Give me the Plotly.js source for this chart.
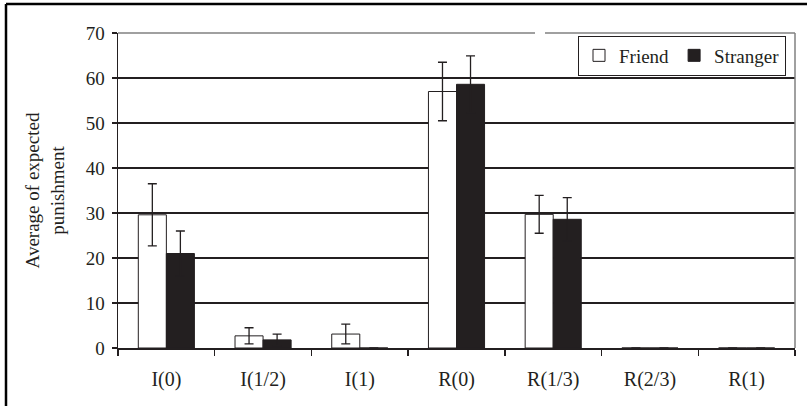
<!DOCTYPE html>
<html>
<head>
<meta charset="utf-8">
<script src="https://cdn.plot.ly/plotly-3.0.1.min.js"></script>
<style>
  html, body { margin: 0; padding: 0; background: #ffffff; }
  #chart { width: 807px; height: 406px; }
</style>
</head>
<body>
<div id="chart"></div>
<script>
// Scenario labels on the x axis
const categories = ["I(0)", "I(1/2)", "I(1)", "R(0)", "R(1/3)", "R(2/3)", "R(1)"];

// Mean expected punishment per scenario
const friendValues   = [29.6, 2.7, 3.1, 57.0, 29.7, 0, 0];
const strangerValues = [21.0, 1.8, 0, 58.6, 28.6, 0, 0];

// Error bar half-lengths
const friendErrors   = [6.9, 1.8, 2.2, 6.5, 4.2, 0, 0];
const strangerErrors = [5.0, 1.3, 0, 6.3, 4.8, 0, 0];

const yTicks = [0, 10, 20, 30, 40, 50, 60, 70];

const ink = "#231f20";
const serif = "Liberation Serif, Times New Roman, serif";

const errStyle = { type: "data", visible: true, color: ink, thickness: 1.3, width: 4.5 };

const traces = [
  {
    type: "bar", name: "Friend", x: categories, y: friendValues,
    marker: { color: "#ffffff", line: { color: ink, width: 1 } },
    error_y: Object.assign({ array: friendErrors }, errStyle)
  },
  {
    type: "bar", name: "Stranger", x: categories, y: strangerValues,
    marker: { color: ink, line: { color: ink, width: 1 } },
    error_y: Object.assign({ array: strangerErrors }, errStyle)
  }
];

// Plot area edges in pixels, used to place the frame and legend in paper units
const L = 118, R = 12, T = 33, B = 58, W = 807, H = 406;
const pw = W - L - R, ph = H - T - B;
const px = v => (v - L) / pw;
const py = v => (H - B - v) / ph;

const layout = {
  width: W, height: H,
  margin: { l: L, r: R, t: T, b: B, pad: 0, autoexpand: false },
  paper_bgcolor: "#ffffff",
  plot_bgcolor: "#ffffff",
  font: { family: serif, size: 19, color: ink },
  barmode: "group",
  bargap: 0.42,
  bargroupgap: 0,
  showlegend: true,
  legend: {
    orientation: "h",
    x: px(786), y: py(55.5), xanchor: "right", yanchor: "middle",
    bordercolor: ink, borderwidth: 1, bgcolor: "#ffffff",
    font: { family: serif, size: 19, color: ink },
    itemwidth: 30, tracegroupgap: 0
  },
  xaxis: {
    type: "category",
    showline: true, linecolor: ink, linewidth: 1.5,
    ticks: "outside", ticklen: 6, tickwidth: 1.5, tickcolor: ink,
    tickson: "boundaries",
    showgrid: false, zeroline: false,
    ticklabelstandoff: 12,
    tickfont: { family: serif, size: 20, color: ink }
  },
  yaxis: {
    range: [0, 70],
    tickvals: yTicks,
    ticktext: yTicks.map(String),
    showline: true, linecolor: ink, linewidth: 1.5,
    ticks: "outside", ticklen: 5, tickwidth: 1.5, tickcolor: ink,
    showgrid: true, gridcolor: ink, gridwidth: 1.2,
    zeroline: false,
    ticklabelstandoff: 3,
    tickfont: { family: serif, size: 19, color: ink },
    title: {
      text: "Average of expected<br>punishment",
      font: { family: serif, size: 19, color: ink },
      standoff: 16
    }
  },
  shapes: [
    // grey top and right edges of the plot area
    { type: "line", xref: "paper", yref: "paper", x0: 0, x1: 1, y0: 1, y1: 1,
      line: { color: "#808080", width: 1.5 } },
    { type: "line", xref: "paper", yref: "paper", x0: 1, x1: 1, y0: 0, y1: 1,
      line: { color: "#808080", width: 1.5 } },
    // small break in the top edge
    { type: "line", xref: "paper", yref: "paper", x0: px(535), x1: px(545), y0: 1, y1: 1,
      line: { color: "#ffffff", width: 3 } },
    // outer frame around the figure
    { type: "line", xref: "paper", yref: "paper", x0: px(6), x1: px(W + 5), y0: py(4), y1: py(4),
      line: { color: "#000000", width: 2.5 } },
    { type: "line", xref: "paper", yref: "paper", x0: px(6), x1: px(6), y0: py(4), y1: py(H + 5),
      line: { color: "#000000", width: 2.5 } }
  ]
};

Plotly.newPlot("chart", traces, layout, { displayModeBar: false, staticPlot: true });
</script>
</body>
</html>
